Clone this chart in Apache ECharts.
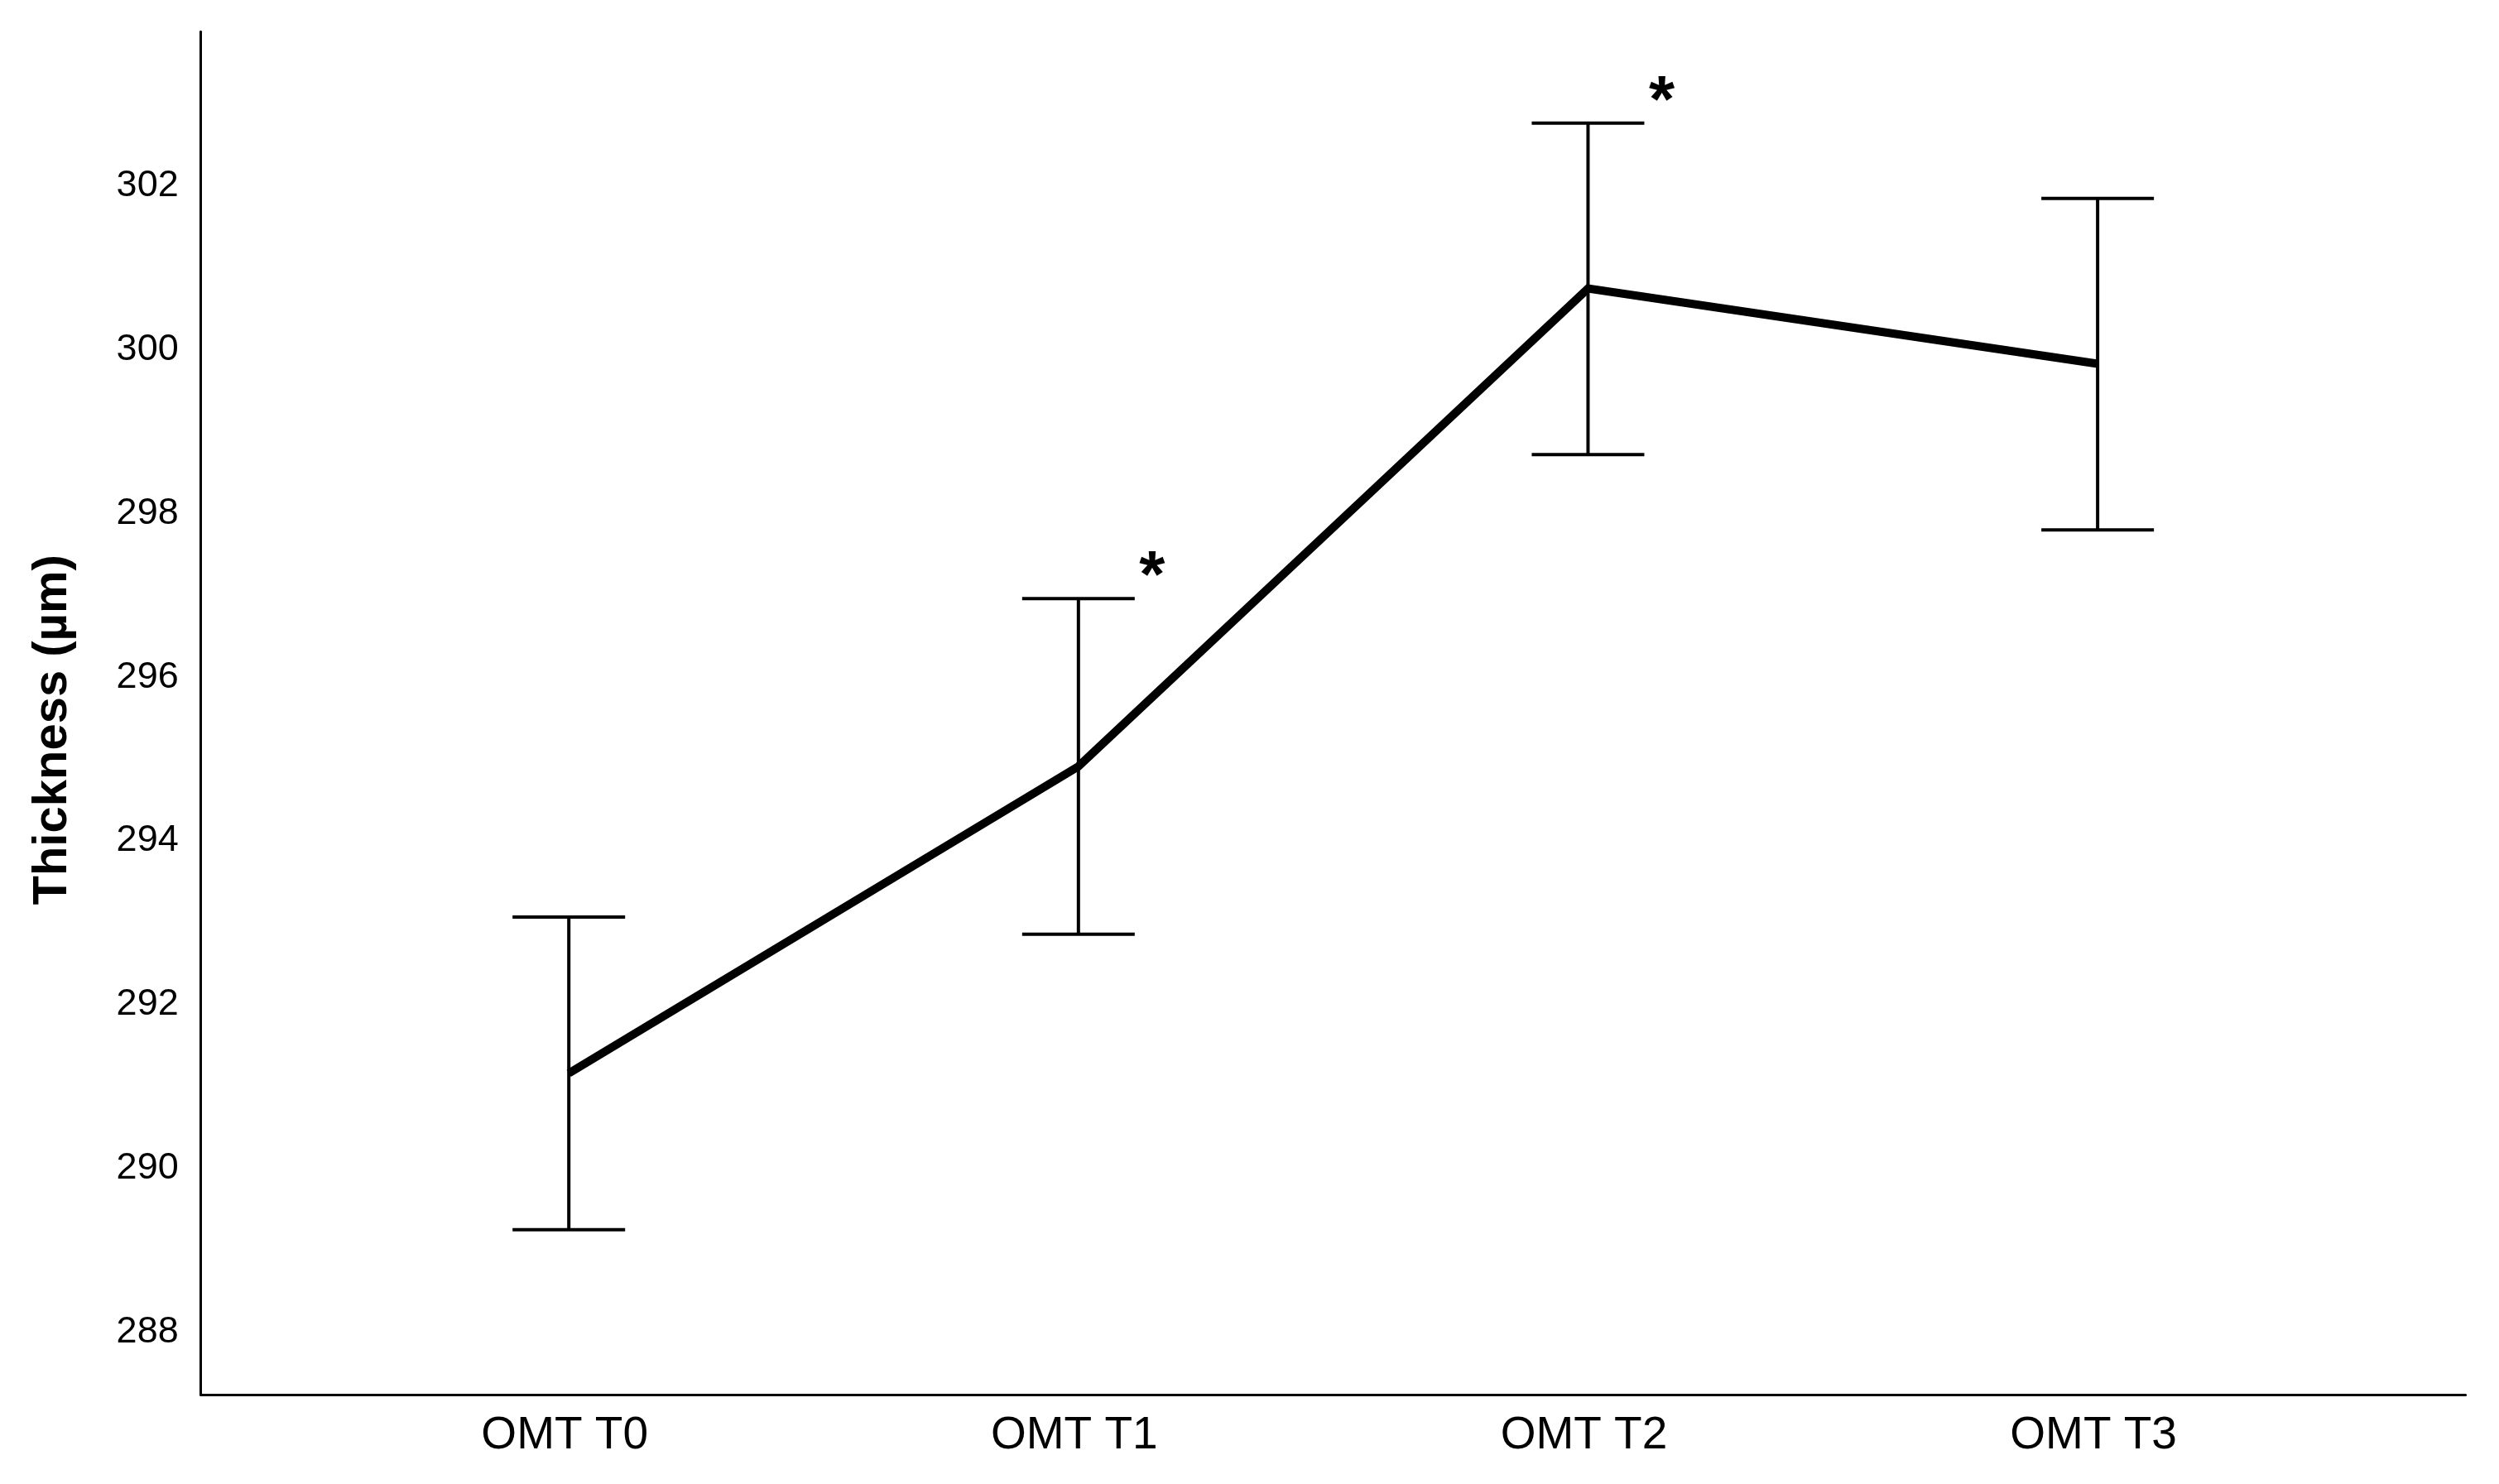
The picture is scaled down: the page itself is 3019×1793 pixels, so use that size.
<!DOCTYPE html>
<html>
<head>
<meta charset="utf-8">
<script src="https://cdn.jsdelivr.net/npm/echarts@6/dist/echarts.min.js"></script>
<style>
  html, body { margin: 0; padding: 0; background: #fff; }
  #chart { width: 3019px; height: 1793px; }
</style>
</head>
<body>
<div id="chart"></div>
<script>
// ---- data ----
const categories = ['OMT T0', 'OMT T1', 'OMT T2', 'OMT T3'];
const means = [291.16, 294.91, 300.75, 299.83];
const upper = [293.07, 296.96, 302.77, 301.85];
const lower = [289.25, 292.86, 298.72, 297.80];
const significance = ['', '*', '*', ''];
const yTickValues = [288, 290, 292, 294, 296, 298, 300, 302];
const yTitle = 'Thickness (µm)';

const FONT = '"Liberation Sans", Arial, Helvetica, sans-serif';

const lineData = categories.map((c, i) => [i, means[i]]);
const barData = categories.map((c, i) => [i, lower[i], upper[i], significance[i]]);

const chart = echarts.init(document.getElementById('chart'), null, { renderer: 'canvas' });

chart.setOption({
  animation: false,
  backgroundColor: '#ffffff',
  grid: { left: 242.7, right: 40.4, top: 38.3, bottom: 107.7, containLabel: false },
  xAxis: {
    type: 'value',
    min: -0.722,
    max: 3.722,
    axisLine: { show: true, onZero: false, lineStyle: { color: '#000', width: 3 } },
    axisTick: { show: false },
    splitLine: { show: false },
    axisLabel: {
      customValues: [0, 1, 2, 3],
      formatter: v => categories[Math.round(v)] || '',
      color: '#000',
      fontFamily: FONT,
      fontSize: 55,
      margin: 22,
      padding: [0, 10, 0, 0]
    }
  },
  yAxis: {
    type: 'value',
    min: 287.231,
    max: 303.888,
    axisLine: { show: true, onZero: false, lineStyle: { color: '#000', width: 3 } },
    axisTick: { show: false },
    splitLine: { show: false },
    axisLabel: {
      customValues: yTickValues,
      color: '#000',
      fontFamily: FONT,
      fontSize: 45,
      margin: 27
    },
    name: yTitle,
    nameLocation: 'middle',
    nameRotate: 90,
    nameGap: 150,
    nameTextStyle: {
      color: '#000',
      fontFamily: FONT,
      fontSize: 58,
      fontWeight: 'bold',
      padding: [0, 40, 0, 0]
    }
  },
  series: [
    {
      type: 'custom',
      name: 'errorbars',
      z: 2,
      data: barData,
      encode: { x: 0, y: [1, 2] },
      renderItem: function (params, api) {
        const xi = api.value(0);
        const lo = api.coord([xi, api.value(1)]);
        const hi = api.coord([xi, api.value(2)]);
        const half = 68;
        const st = { stroke: '#000', lineWidth: 4 };
        const children = [
          { type: 'line', shape: { x1: hi[0], y1: hi[1], x2: lo[0], y2: lo[1] }, style: st },
          { type: 'line', shape: { x1: hi[0] - half, y1: hi[1], x2: hi[0] + half, y2: hi[1] }, style: st },
          { type: 'line', shape: { x1: lo[0] - half, y1: lo[1], x2: lo[0] + half, y2: lo[1] }, style: st }
        ];
        const sig = significance[params.dataIndex];
        if (sig) {
          children.push({
            type: 'text',
            style: {
              text: sig,
              x: hi[0] + 89,
              y: hi[1] - 24,
              align: 'center',
              verticalAlign: 'middle',
              fill: '#000',
              font: 'bold 80px ' + FONT
            }
          });
        }
        return { type: 'group', children: children };
      }
    },
    {
      type: 'line',
      name: 'mean',
      z: 3,
      data: lineData,
      symbol: 'none',
      lineStyle: { color: '#000', width: 10, cap: 'butt', join: 'miter' }
    }
  ]
});
</script>
</body>
</html>
